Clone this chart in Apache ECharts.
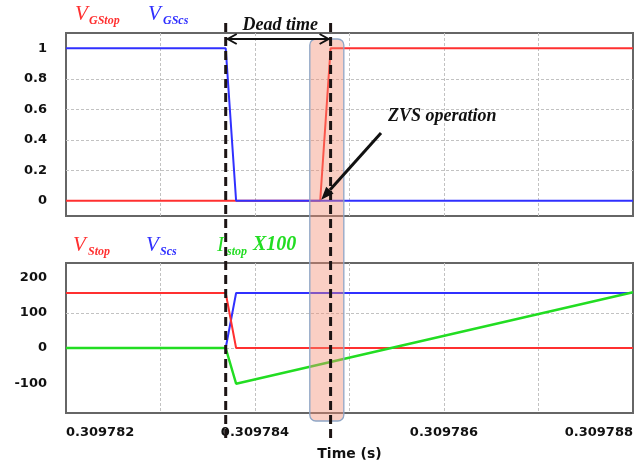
<!DOCTYPE html>
<html>
<head>
<meta charset="utf-8">
<script src="https://cdn.jsdelivr.net/npm/echarts@6/dist/echarts.min.js"></script>
<style>
  html, body { margin: 0; padding: 0; background: #fff; }
  #chart { width: 641px; height: 465px; }
</style>
</head>
<body>
<div id="chart"></div>
<script>
// Time samples in microseconds (labels are shown in seconds)
const tGateScs = [309782, 309783.69, 309783.80, 309788];
const tGateTop = [309782, 309784.69, 309784.80, 309788];
const vGStop = [0, 0, 1, 1];
const vGScs = [1, 1, 0, 0];

const tSwitch = [309782, 309783.69, 309783.80, 309788];
const vStop = [156, 156, 0, 0];
const vScs = [0, 0, 156, 156];
const iStopX100 = [0, 0, -101, 158];

const gateTicks = [0, 0.2, 0.4, 0.6, 0.8, 1];
const voltTicks = [-100, 0, 100, 200];

// Annotation times (µs)
const deadTimeEdges = [309783.69, 309784.80];
const zvsWindow = [309784.58, 309784.94];
const zvsPoint = [309784.69, 0];

const RED = '#ff3030', BLUE = '#3030ff', GREEN = '#22dd22';
const SERIF = '"Liberation Serif", "DejaVu Serif", serif';
const SANS = '"DejaVu Sans", sans-serif';

const pairs = (t, v) => t.map((x, i) => [x, v[i]]);

const chart = echarts.init(document.getElementById('chart'), null, { renderer: 'canvas' });

const gridLine = {
  show: true, showMinLine: false, showMaxLine: false,
  lineStyle: { color: '#c2c2c2', type: [3, 2], width: 1 }
};

function xAxisCfg(gridIndex, showLabels) {
  return {
    type: 'value', gridIndex,
    min: 309782, max: 309788, interval: 1,
    name: showLabels ? 'Time (s)' : '',
    nameLocation: 'middle', nameGap: 34,
    nameTextStyle: { fontFamily: SANS, fontWeight: 'bold', fontSize: 14, color: '#111' },
    axisLine: { show: false }, axisTick: { show: false },
    axisLabel: {
      show: showLabels, margin: 13,
      fontFamily: SANS, fontWeight: 'bold', fontSize: 13, color: '#111',
      alignMinLabel: 'left', alignMaxLabel: 'right',
      formatter: v => (Math.round(v) % 2 === 0 ? (v / 1e6).toFixed(6) : '')
    },
    splitLine: gridLine
  };
}

function yAxisCfg(gridIndex, min, max, ticks, fmt) {
  return {
    type: 'value', gridIndex, min, max,
    axisLine: { show: false },
    axisTick: { show: false, customValues: ticks },
    axisLabel: {
      customValues: ticks, margin: 19,
      fontFamily: SANS, fontWeight: 'bold', fontSize: 13, color: '#111',
      formatter: fmt
    },
    splitLine: gridLine
  };
}

const lineSeries = (name, xi, data, color, width) => ({
  name, type: 'line', xAxisIndex: xi, yAxisIndex: xi, data,
  showSymbol: false, symbol: 'none', silent: true, animation: false,
  lineStyle: { color, width }
});

chart.setOption({
  animation: false,
  grid: [
    { left: 66, right: 8, top: 33, height: 183, show: true, borderColor: '#666', borderWidth: 2 },
    { left: 66, right: 8, top: 263, height: 150, show: true, borderColor: '#666', borderWidth: 2 }
  ],
  xAxis: [xAxisCfg(0, false), xAxisCfg(1, true)],
  yAxis: [
    yAxisCfg(0, -0.1, 1.1, gateTicks, v => String(Math.round(v * 10) / 10)),
    yAxisCfg(1, -184, 241, voltTicks, v => String(Math.round(v)))
  ],
  series: [
    lineSeries('VGStop', 0, pairs(tGateTop, vGStop), RED, 2),
    lineSeries('VGScs', 0, pairs(tGateScs, vGScs), BLUE, 2),
    lineSeries('VScs', 1, pairs(tSwitch, vScs), BLUE, 2),
    lineSeries('VStop', 1, pairs(tSwitch, vStop), RED, 2),
    lineSeries('IStopX100', 1, pairs(tSwitch, iStopX100), GREEN, 2.4)
  ]
});

// Annotations positioned from the data axes
const X = t => chart.convertToPixel({ xAxisIndex: 0 }, t);
const d0 = X(deadTimeEdges[0]), d1 = X(deadTimeEdges[1]);
const w0 = X(zvsWindow[0]), w1 = X(zvsWindow[1]);
const zp = chart.convertToPixel({ gridIndex: 0 }, zvsPoint);

function label(x, y, text, fontSize, color, bold) {
  return {
    type: 'text', z: 100,
    style: {
      x, y, text, fill: color,
      font: (bold ? 'italic bold ' : 'italic ') + fontSize + 'px ' + SERIF,
      align: 'left', verticalAlign: 'middle'
    }
  };
}

// ZVS arrow geometry
const ax0 = 381, ay0 = 133;
const ax1 = zp[0] + 1, ay1 = zp[1] - 1;
const ang = Math.atan2(ay1 - ay0, ax1 - ax0);
const headLen = 13, headW = 5;
const bx = ax1 - headLen * Math.cos(ang), by = ay1 - headLen * Math.sin(ang);
const nx = -Math.sin(ang) * headW, ny = Math.cos(ang) * headW;

const graphics = [
  // ZVS window
  {
    type: 'rect', z: 50,
    shape: { x: w0, y: 39, width: w1 - w0, height: 382, r: 6 },
    style: { fill: 'rgba(244,140,115,0.42)', stroke: '#8ea6c6', lineWidth: 1.3 }
  },
  // dead-time dashed markers
  ...deadTimeEdges.map(t => ({
    type: 'line', z: 60,
    shape: { x1: X(t), y1: 23, x2: X(t), y2: 440 },
    style: { stroke: '#1c1414', lineWidth: 3, lineDash: [9, 5] }
  })),
  // dead-time double arrow
  {
    type: 'line', z: 70,
    shape: { x1: d0 + 2, y1: 39, x2: d1 - 2, y2: 39 },
    style: { stroke: '#111', lineWidth: 2 }
  },
  {
    type: 'polyline', z: 70,
    shape: { points: [[d0 + 11, 34], [d0 + 2, 39], [d0 + 11, 44]] },
    style: { stroke: '#111', lineWidth: 2, fill: null }
  },
  {
    type: 'polyline', z: 70,
    shape: { points: [[d1 - 11, 34], [d1 - 2, 39], [d1 - 11, 44]] },
    style: { stroke: '#111', lineWidth: 2, fill: null }
  },
  {
    type: 'text', z: 100,
    style: {
      x: (d0 + d1) / 2 + 2, y: 25, text: 'Dead time', fill: '#111',
      font: 'italic bold 18px ' + SERIF, align: 'center', verticalAlign: 'middle'
    }
  },
  // ZVS operation callout
  label(388, 116, 'ZVS operation', 18, '#111', true),
  {
    type: 'line', z: 70,
    shape: { x1: ax0, y1: ay0, x2: bx, y2: by },
    style: { stroke: '#111', lineWidth: 3 }
  },
  {
    type: 'polygon', z: 70,
    shape: { points: [[ax1, ay1], [bx + nx, by + ny], [bx - nx, by - ny]] },
    style: { fill: '#111' }
  },
  // series captions, top panel
  label(75, 14, 'V', 21, RED, false),
  label(89, 21, 'GStop', 12, RED, true),
  label(148, 14, 'V', 21, BLUE, false),
  label(163, 21, 'GScs', 12, BLUE, true),
  // series captions, bottom panel
  label(73, 245, 'V', 21, RED, false),
  label(88, 252, 'Stop', 12, RED, true),
  label(146, 245, 'V', 21, BLUE, false),
  label(160, 252, 'Scs', 12, BLUE, true),
  label(217, 245, 'I', 21, GREEN, false),
  label(227, 252, 'stop', 12, GREEN, true),
  label(253, 245, 'X100', 20, GREEN, true)
];

chart.setOption({ graphic: graphics });
</script>
</body>
</html>
